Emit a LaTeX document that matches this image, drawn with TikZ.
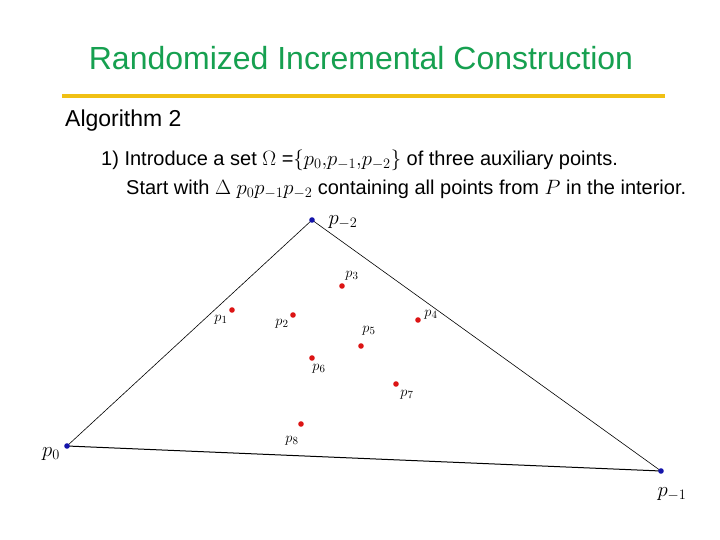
\documentclass[tikz,border=0pt]{standalone}
\usepackage{fontspec}
\setmainfont{Liberation Sans}
\usepackage{xcolor}
\definecolor{titlegreen}{RGB}{22,160,80}
\definecolor{baryellow}{RGB}{240,192,20}
\definecolor{dotred}{RGB}{220,20,20}
\definecolor{dotblue}{RGB}{20,20,170}
\tikzset{
  ptlabel/.style={inner sep=0pt,font=\fontsize{15}{15}\selectfont},
  bigptlabel/.style={inner sep=0pt,font=\fontsize{20}{20}\selectfont},
}
\begin{document}
\begin{tikzpicture}[x=1pt,y=-1pt,line cap=round,line join=round]
  \useasboundingbox (0,0) rectangle (720,540);
  % title and rule
  \node (title) at (361,58) {\fontsize{32}{32}\selectfont\color{titlegreen}Randomized Incremental Construction};
  \draw[baryellow,line width=4pt,line cap=butt] (62,96) -- (665,96);
  \node[anchor=west,inner sep=0pt] (alg) at (65,121) {\fontsize{23}{23}\selectfont Algorithm 2};
  \node[anchor=west,inner sep=0pt] (line1) at (101,160) {\fontsize{20}{20}\selectfont 1) Introduce a set $\Omega$ =$\{p_0{,}p_{-1}{,}p_{-2}\}$ of three auxiliary points.};
  \node[anchor=west,inner sep=0pt] (line2) at (126,189) {\fontsize{20}{20}\selectfont Start with $\Delta$ $p_0p_{-1}p_{-2}$ containing all points from $P$ in the interior.};
  % auxiliary triangle
  \coordinate (pm2) at (312,220);
  \coordinate (p0) at (67,446);
  \coordinate (pm1) at (661,471);
  \draw[line width=0.6pt] (p0) -- (pm2) -- (pm1);
  \draw[line width=1pt] (p0) -- (pm1);
  \foreach \c in {pm2,p0,pm1}{\fill[dotblue] (\c) circle (2.8pt);}
  \node[bigptlabel] (lm2) at (343,222) {$p_{-2}$};
  \node[bigptlabel] (l0) at (51,454) {$p_0$};
  \node[bigptlabel] (lm1) at (672,494) {$p_{-1}$};
  % input points
  \foreach \i/\x/\y/\lx/\ly in {1/232/310/221/320,2/293/315/282/324,3/342/286/352/276,4/418/320/431/315,5/361/346/369/331,6/312/358/319/369,7/396/384/407/395,8/301/424/292/441}{
    \fill[dotred] (\x,\y) circle (2.8pt);
    \node[ptlabel] (l\i) at (\lx,\ly) {$p_{\i}$};
  }
\end{tikzpicture}
\end{document}
